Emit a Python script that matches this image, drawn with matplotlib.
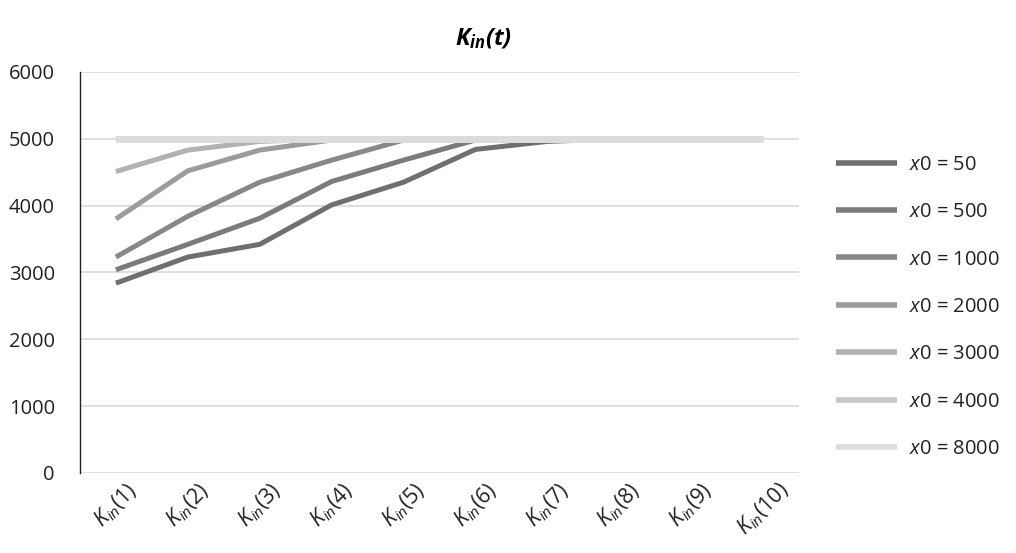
import matplotlib
matplotlib.use("Agg")
import matplotlib.pyplot as plt

plt.rcParams['font.family'] = ['Open Sans', 'DejaVu Sans']
plt.rcParams['mathtext.fontset'] = 'custom'
plt.rcParams['mathtext.rm'] = 'Open Sans'
plt.rcParams['mathtext.it'] = 'Open Sans:italic'
plt.rcParams['mathtext.bf'] = 'Open Sans:bold:italic'

steps = [r'$K_{in}$(%d)' % i for i in range(1, 11)]
labels = ['50', '500', '1000', '2000', '3000', '4000', '8000']
k_50 = [2840, 3230, 3420, 4010, 4350, 4840, 4960, 5000, 5000, 5000]
k_500 = [3040, 3420, 3810, 4360, 4680, 4980, 5000, 5000, 5000, 5000]
k_1000 = [3230, 3840, 4350, 4680, 4980, 5000, 5000, 5000, 5000, 5000]
k_2000 = [3800, 4520, 4830, 4980, 5000, 5000, 5000, 5000, 5000, 5000]
k_3000 = [4510, 4830, 4960, 5000, 5000, 5000, 5000, 5000, 5000, 5000]
k_4000 = [5000, 5000, 5000, 5000, 5000, 5000, 5000, 5000, 5000, 5000]
k_8000 = [5000, 5000, 5000, 5000, 5000, 5000, 5000, 5000, 5000, 5000]
series = [k_50, k_500, k_1000, k_2000, k_3000, k_4000, k_8000]
colors = ['#6f6f6f', '#7b7b7b', '#888888', '#9c9c9c', '#b2b2b2', '#c8c8c8', '#dcdcdc']
widths = [3.6, 3.6, 3.6, 3.6, 3.6, 4.2, 5.0]

fig = plt.figure(figsize=(10.16, 5.53), dpi=100)
ax = fig.add_axes([0.0787, 0.1447, 0.7077, 0.7253])

x = list(range(len(steps)))
for vals, lab, c, w in zip(series, labels, colors, widths):
    ax.plot(x, vals, color=c, lw=w, solid_capstyle='butt',
            label=r'$x$0 = ' + lab)

ax.set_xlim(-0.5, 9.5)
ax.set_ylim(0, 6000)
ax.set_yticks(range(0, 7000, 1000))
ax.set_xticks(x)
ax.set_xticklabels(steps, rotation=45, ha='center', fontsize=15.5, color='#222222')
ax.tick_params(axis='y', length=0, pad=18, labelsize=14.5, labelcolor='#222222')
ax.tick_params(axis='x', length=0, pad=4)
ax.grid(axis='y', color='#d9d9d9', lw=1.2)
ax.set_axisbelow(True)
for s in ['top', 'right', 'bottom']:
    ax.spines[s].set_visible(False)
ax.spines['left'].set_color('#222222')
ax.spines['left'].set_linewidth(1.0)

fig.text(0.476, 0.93, r'$\mathbf{K_{in}(t)}$', ha='center', va='center', fontsize=17)

leg = fig.legend(loc='center left', bbox_to_anchor=(0.823, 0.445), frameon=False,
                 fontsize=14.5, handlelength=3.0, handletextpad=0.6, labelspacing=1.36,
                 borderpad=0, borderaxespad=0, labelcolor='#222222')
for h in leg.get_lines():
    h.set_linewidth(4.0)

fig.savefig('out.png', dpi=100)
